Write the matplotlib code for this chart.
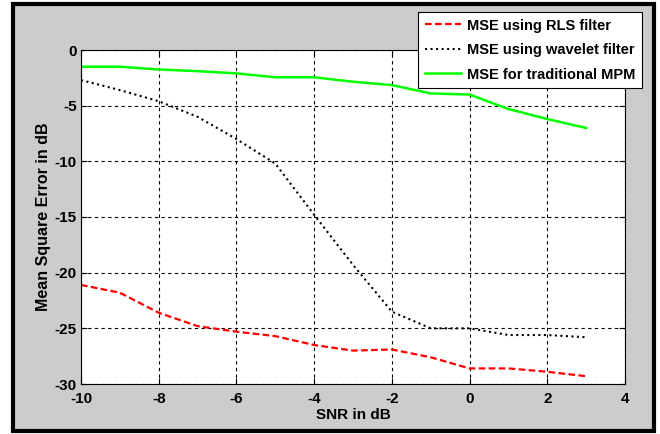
import matplotlib.pyplot as plt
from matplotlib.patches import Rectangle

snr = [-10, -9, -8, -7, -6, -5, -4, -3, -2, -1, 0, 1, 2, 3]
mse_rls = [-21.1, -21.8, -23.6, -24.8, -25.3, -25.7, -26.5, -27.0, -26.9, -27.6, -28.6, -28.6, -28.9, -29.3]
mse_wavelet = [-2.7, -3.6, -4.6, -6.0, -8.0, -10.2, -14.8, -19.3, -23.5, -25.0, -25.0, -25.6, -25.6, -25.8]
mse_mpm = [-1.5, -1.5, -1.75, -1.9, -2.1, -2.45, -2.45, -2.85, -3.15, -3.9, -4.0, -5.3, -6.2, -7.0]

xticks = [-10, -8, -6, -4, -2, 0, 2, 4]
yticks = [0, -5, -10, -15, -20, -25, -30]

plt.rcParams['font.family'] = 'Liberation Sans'
plt.rcParams['font.weight'] = 'bold'
plt.rcParams['axes.labelweight'] = 'bold'
plt.rcParams['axes.unicode_minus'] = False

fig = plt.figure(figsize=(6.6, 4.34), dpi=100, facecolor='white')

# grey MATLAB-style figure background with a thick black frame
fig.patches.append(Rectangle((13 / 660, 3 / 434), 641 / 660, 427 / 434, transform=fig.transFigure,
                             facecolor='#cccccc', edgecolor='black', linewidth=3, zorder=-10))

ax = fig.add_axes([81 / 660, 50 / 434, 544 / 660, 334 / 434])
ax.set_facecolor('white')

ax.plot(snr, mse_rls, color='red', linestyle='--', linewidth=1.6, dashes=(3, 1.5), label='MSE using RLS filter')
ax.plot(snr, mse_wavelet, color='black', linestyle=':', linewidth=1.5, label='MSE using wavelet filter')
ax.plot(snr, mse_mpm, color='#00ff00', linestyle='-', linewidth=1.8, label='MSE for traditional MPM')

ax.set_xlim(-10, 4)
ax.set_ylim(-30, 0)
ax.set_xticks(xticks)
ax.set_yticks(yticks)
ax.set_xticklabels([str(t) for t in xticks], fontweight='bold', fontsize=11)
ax.set_yticklabels([str(t) for t in yticks], fontweight='bold', fontsize=11)
ax.tick_params(direction='in', top=True, right=True, length=4)
ax.tick_params(axis='x', pad=6)
ax.tick_params(axis='y', pad=3)

ax.grid(True, color='black', linestyle=(0, (3, 3)), linewidth=0.8)
for s in ax.spines.values():
    s.set_linewidth(0.8)

ax.set_xlabel('SNR in dB', fontsize=11, fontweight='bold', labelpad=1)
ax.set_ylabel('Mean Square Error in dB', fontsize=11.5, fontweight='bold', labelpad=3)

leg = ax.legend(loc='upper left', bbox_to_anchor=(418 / 660, 1 - 12 / 434), bbox_transform=fig.transFigure,
                prop={'family': 'Liberation Sans', 'size': 10.5, 'weight': 'bold'}, fancybox=False, framealpha=1,
                edgecolor='black', handlelength=2.5, handletextpad=0.4, borderpad=0.45, labelspacing=0.72,
                borderaxespad=0)
leg.get_frame().set_linewidth(0.8)

fig.savefig('out.png', dpi=100, facecolor='white')
